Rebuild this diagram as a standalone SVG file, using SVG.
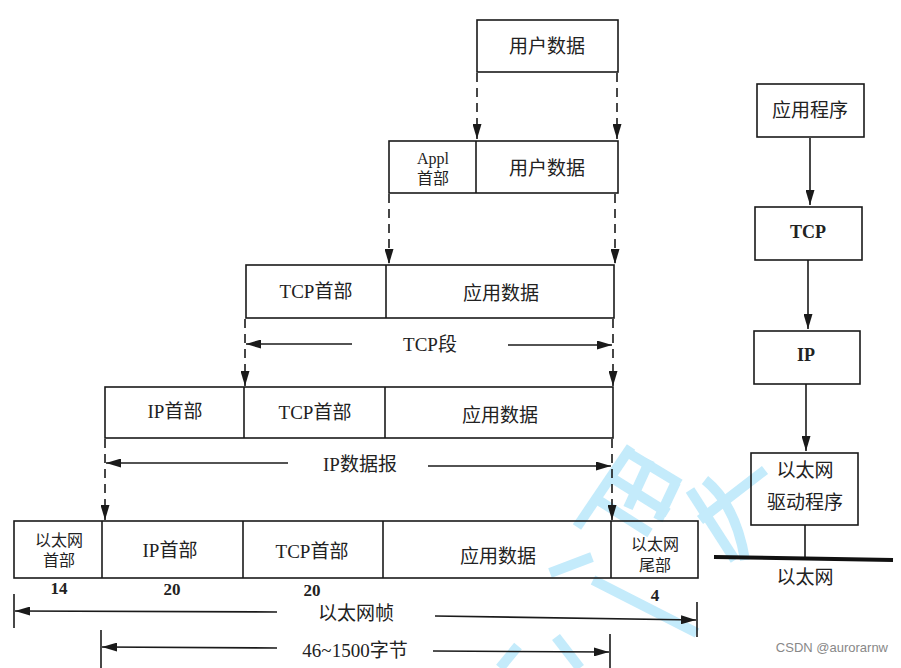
<svg xmlns="http://www.w3.org/2000/svg" width="901" height="668" viewBox="0 0 901 668">
<style>
.box{fill:none;stroke:#1a1a1a;stroke-width:1.6}
.ln{stroke:#1a1a1a;stroke-width:1.6;fill:none}
.dash{stroke:#1a1a1a;stroke-width:1.6;fill:none;stroke-dasharray:9 6}
.t{font-family:"Liberation Serif","Noto Sans CJK SC",serif;font-size:19px;fill:#222;text-anchor:middle;dominant-baseline:central}
.s{font-size:16px}
.n{font-family:"Liberation Serif",serif;font-size:17px;font-weight:bold;fill:#222;text-anchor:middle;dominant-baseline:central}
.b{font-weight:bold;font-size:18px}
.wm{stroke:#c4ebfb;stroke-width:10;fill:none;stroke-linecap:butt}
</style>
<defs>
<marker id="ah" viewBox="0 0 15 9" refX="15" refY="4.5" markerWidth="15" markerHeight="9" orient="auto" markerUnits="userSpaceOnUse">
<path d="M0,0 L15,4.5 L0,9 z" fill="#1a1a1a"/>
</marker>
</defs>
<rect width="901" height="668" fill="#fff"/>

<g id="watermark">
<path class="wm" d="M577,527 L631,447"/>
<path class="wm" d="M627,452 L680,484"/>
<path class="wm" d="M612,478 L668,513"/>
<path class="wm" d="M598,500 L650,533"/>
<path class="wm" d="M650,460 L628,508"/>
<path class="wm" d="M676,482 L658,520"/>
<path class="wm" d="M690,490 L735,560"/>
<path class="wm" d="M700,520 L765,470"/>
<path class="wm" d="M550,573 L592,557"/>
<path class="wm" d="M593,580 L697,633"/>
<path class="wm" d="M500,668 L518,646"/>
<path class="wm" d="M556,637 L580,668"/>
<path class="wm" d="M705,480 C730,500 740,530 745,560"/>
</g>

<g id="connectors">
<line class="dash" x1="477" y1="73" x2="477" y2="139" marker-end="url(#ah)"/>
<line class="dash" x1="617" y1="73" x2="617" y2="139" marker-end="url(#ah)"/>
<line class="dash" x1="389" y1="194" x2="389" y2="264" marker-end="url(#ah)"/>
<line class="dash" x1="615" y1="194" x2="615" y2="264" marker-end="url(#ah)"/>
<line class="dash" x1="245" y1="319" x2="245" y2="386" marker-end="url(#ah)"/>
<line class="dash" x1="613" y1="319" x2="613" y2="386" marker-end="url(#ah)"/>
<line class="dash" x1="105" y1="439" x2="105" y2="520" marker-end="url(#ah)"/>
<line class="dash" x1="612" y1="439" x2="612" y2="520" marker-end="url(#ah)"/>

<line class="ln" x1="352" y1="344" x2="246" y2="344" marker-end="url(#ah)"/>
<line class="ln" x1="508" y1="345" x2="612" y2="345" marker-end="url(#ah)"/>
<line class="ln" x1="288" y1="463" x2="106" y2="463" marker-end="url(#ah)"/>
<line class="ln" x1="428" y1="466" x2="611" y2="466" marker-end="url(#ah)"/>

<line class="ln" x1="277" y1="612" x2="15" y2="611" marker-end="url(#ah)"/>
<line class="ln" x1="435" y1="616" x2="696" y2="620" marker-end="url(#ah)"/>
<line class="ln" x1="14" y1="594" x2="14" y2="628"/>
<line class="ln" x1="697" y1="602" x2="697" y2="637"/>
<line class="ln" x1="277" y1="648" x2="102" y2="647" marker-end="url(#ah)"/>
<line class="ln" x1="433" y1="651" x2="609" y2="652" marker-end="url(#ah)"/>
<line class="ln" x1="101" y1="630" x2="101" y2="668"/>
<line class="ln" x1="610" y1="634" x2="610" y2="668"/>

<line class="ln" x1="810" y1="138" x2="810" y2="205" marker-end="url(#ah)"/>
<line class="ln" x1="808" y1="260" x2="808" y2="329" marker-end="url(#ah)"/>
<line class="ln" x1="806" y1="384" x2="806" y2="451" marker-end="url(#ah)"/>
<line class="ln" x1="805" y1="525" x2="805" y2="558"/>
<line x1="714" y1="557" x2="893" y2="560" stroke="#111" stroke-width="4"/>
</g>

<g id="row1">
<rect class="box" x="477" y="20" width="141" height="52"/>
<text class="t" x="547" y="46">用户数据</text>
</g>

<g id="row2">
<rect class="box" x="389" y="141" width="229" height="52"/>
<line class="ln" x1="476" y1="141" x2="476" y2="193"/>
<text class="t s" x="433" y="158">Appl</text>
<text class="t s" x="433" y="178">首部</text>
<text class="t" x="547" y="168">用户数据</text>
</g>

<g id="row3">
<rect class="box" x="246" y="265" width="368" height="53"/>
<line class="ln" x1="386" y1="265" x2="386" y2="318"/>
<text class="t" x="316" y="291">TCP首部</text>
<text class="t" x="501" y="293">应用数据</text>
<text class="t" x="430" y="344">TCP段</text>
</g>

<g id="row4">
<rect class="box" x="105" y="387" width="508" height="51"/>
<line class="ln" x1="244" y1="387" x2="244" y2="438"/>
<line class="ln" x1="385" y1="387" x2="385" y2="438"/>
<text class="t" x="175" y="411">IP首部</text>
<text class="t" x="315" y="412">TCP首部</text>
<text class="t" x="500" y="415">应用数据</text>
<text class="t" x="360" y="464">IP数据报</text>
</g>

<g id="row5">
<rect class="box" x="14" y="521" width="684" height="57"/>
<line class="ln" x1="102" y1="521" x2="102" y2="578"/>
<line class="ln" x1="243" y1="521" x2="243" y2="578"/>
<line class="ln" x1="383" y1="521" x2="383" y2="578"/>
<line class="ln" x1="611" y1="521" x2="611" y2="578"/>
<text class="t s" x="59" y="540">以太网</text>
<text class="t s" x="59" y="560">首部</text>
<text class="t" x="170" y="550">IP首部</text>
<text class="t" x="312" y="551">TCP首部</text>
<text class="t" x="498" y="556">应用数据</text>
<text class="t s" x="655" y="544">以太网</text>
<text class="t s" x="655" y="565">尾部</text>
<text class="n" x="59" y="588">14</text>
<text class="n" x="172" y="589">20</text>
<text class="n" x="312" y="590">20</text>
<text class="n" x="655" y="595">4</text>
<text class="t" x="356" y="613">以太网帧</text>
<text class="t" x="355" y="650">46~1500字节</text>
</g>

<g id="app">
<rect class="box" x="757" y="84" width="107" height="53"/>
<text class="t" x="810" y="110">应用程序</text>
</g>
<g id="tcp">
<rect class="box" x="755" y="207" width="107" height="53"/>
<text class="t b" x="808" y="232">TCP</text>
</g>
<g id="ip">
<rect class="box" x="754" y="331" width="106" height="53"/>
<text class="t b" x="806" y="355">IP</text>
</g>
<g id="driver">
<rect class="box" x="751" y="453" width="107" height="72"/>
<text class="t" x="805" y="470">以太网</text>
<text class="t" x="805" y="502">驱动程序</text>
</g>
<g id="ethernet">
<text class="t" x="805" y="577">以太网</text>
</g>
<text x="888" y="652" style="font-family:'Liberation Sans',sans-serif;font-size:13px;fill:#888;text-anchor:end">CSDN @aurorarnw</text>
</svg>
